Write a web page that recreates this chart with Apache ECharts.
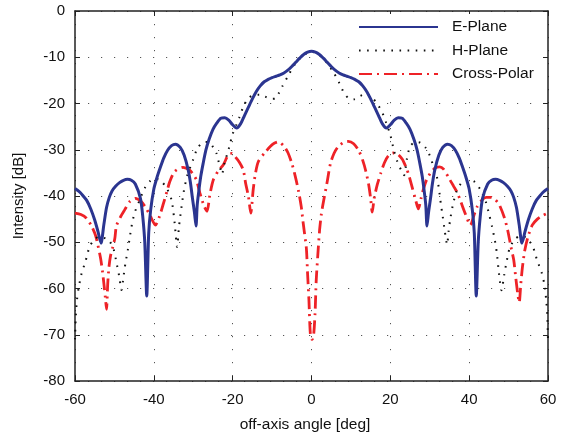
<!DOCTYPE html>
<html><head><meta charset="utf-8">
<script src="https://cdn.jsdelivr.net/npm/echarts@6/dist/echarts.min.js"></script>
<style>html,body{margin:0;padding:0;background:#fff}#c{width:565px;height:441px}</style>
</head><body><div id="c"></div>
<script>
// ---- data ----
const xTicks = [-60, -40, -20, 0, 20, 40, 60];
const yTicks = [-80, -70, -60, -50, -40, -30, -20, -10, 0];
const seriesNames = ['E-Plane', 'H-Plane', 'Cross-Polar'];

const eAngle = [-60,-59,-58.2,-57,-56,-55,-54.2,-53.4,-52.7,-52,-51.3,-50.6,-49.7,-48.7,-47.7,-46.7,-45.7,-44.7,-43.4,-42.8,-42.3,-41.8,-41.3,-40.8,-40,-39.2,-38.3,-37.5,-36.5,-35.5,-34.5,-33.3,-32.3,-31.3,-30.7,-30.2,-29.7,-29.3,-29,-28.6,-28.1,-27.5,-26.8,-26,-25,-24,-23,-22,-21,-20,-19,-18,-17,-16,-15,-14,-13,-12,-11,-10,-9,-8,-7,-6,-5,-4,-3,-2,-1,
  0,1,2,3,4,5,6,7,8,9,10,11,12,13,14,15,16,17,18,19,20,21,22,23,24,25,26,26.8,27.5,28.1,28.6,29,29.3,29.7,30.2,30.7,31.3,32.3,33.3,34.5,35.5,36.5,37.5,38.3,39.2,40,40.8,41.3,41.8,42.3,42.8,43.4,44.7,45.7,46.7,47.7,48.7,49.7,50.6,51.3,52,52.7,53.4,54.2,55,56,57,58.2,59,60];
const eDb = [-38.4,-39.0,-39.7,-41.0,-42.8,-45.2,-47.6,-50.2,-46.3,-42.5,-40.3,-38.9,-37.9,-37.1,-36.6,-36.4,-36.6,-37.4,-40.5,-44.5,-50.0,-61.6,-48.0,-43.0,-38.5,-36.0,-33.7,-31.8,-30.1,-29.1,-28.8,-29.5,-31.2,-34.3,-37.2,-40.5,-43.5,-46.5,-42.0,-39.0,-35.8,-33.0,-30.1,-27.8,-25.6,-24.2,-23.2,-23.1,-23.6,-24.6,-25.3,-24.4,-22.6,-20.8,-19.0,-17.4,-16.2,-15.3,-14.8,-14.4,-14.1,-13.8,-13.4,-12.8,-12.0,-11.1,-10.2,-9.4,-8.9,
  -8.7,-8.9,-9.4,-10.2,-11.1,-12.0,-12.8,-13.4,-13.8,-14.1,-14.4,-14.8,-15.3,-16.2,-17.4,-19.0,-20.8,-22.6,-24.4,-25.3,-24.6,-23.6,-23.1,-23.2,-24.2,-25.6,-27.8,-30.1,-33.0,-35.8,-39.0,-42.0,-46.5,-43.5,-40.5,-37.2,-34.3,-31.2,-29.5,-28.8,-29.1,-30.1,-31.8,-33.7,-36.0,-38.5,-43.0,-48.0,-61.6,-50.0,-44.5,-40.5,-37.4,-36.6,-36.4,-36.6,-37.1,-37.9,-38.9,-40.3,-42.5,-46.3,-50.2,-47.6,-45.2,-42.8,-41.0,-39.7,-39.0,-38.4];

const hAngle = [-60,-59.8,-59.5,-59.1,-58.4,-57.3,-56.3,-55,-53.8,-52.2,-51.2,-50.2,-49.5,-48.8,-48.2,-47.7,-47.2,-46.6,-45.7,-44.9,-43.6,-42.3,-41,-40,-38.5,-36.8,-35.5,-34.7,-34.1,-33.6,-33,-32.4,-31.5,-30,-28.9,-27.5,-26.2,-24.9,-24.1,-23.3,-22.7,-22.1,-21,-20,-19,-18.3,-17.2,-16,-14.7,-13.2,-11.8,-10.3,-9.1,-8.2,-7.4,-5.8,-4.1,-2,
  0,2,4,5.6,6.9,8.3,9.5,10.8,12.3,13.9,15.5,17,17.9,19,20,20.9,21.8,22.8,23.5,24.2,25,26.4,27.7,29,29.8,30.9,31.9,32.4,32.8,33.3,33.8,34.4,34.8,35.2,35.8,36.8,38.2,40,41.5,42.9,44.2,45.1,45.8,46.5,47,47.6,48.2,48.9,49.5,50.2,51.5,53.2,54.8,56.3,57.2,58.4,59.1,59.5,59.8,60];
const hDb = [-71,-66,-62.5,-60,-57,-54,-51,-49.3,-48.8,-49.2,-49.8,-51.5,-54.3,-57.3,-60.3,-57.5,-54.5,-51.7,-46.8,-43.7,-40.9,-38.3,-36.8,-36.3,-36.5,-38.2,-40.9,-46.0,-51.0,-46.5,-42.5,-39.0,-35.5,-32.1,-29.6,-28.4,-28.3,-29.5,-30.8,-33.5,-35.3,-33.0,-29.8,-26.6,-24.5,-23.0,-20.5,-18.8,-18.2,-18.1,-18.5,-19.0,-18.9,-17.6,-16.3,-13.8,-11.4,-9.5,
  -8.8,-9.5,-11.3,-13.3,-15.3,-17.8,-18.9,-19.1,-18.4,-17.9,-18.8,-20.5,-21.8,-24.3,-26.8,-30.1,-32.6,-34.5,-35.5,-32.0,-29.3,-28.3,-28.5,-29.6,-30.8,-33.5,-36.2,-38.9,-41.6,-44.5,-47.5,-50.5,-47.5,-45.0,-42.2,-39.0,-37.0,-36.4,-37.0,-38.7,-41.2,-44.1,-46.6,-49.5,-52.2,-57.0,-60.4,-57.0,-54.2,-51.5,-49.4,-48.6,-49.2,-51.3,-53.8,-56.6,-59.2,-62.1,-65.5,-71];

const cAngle = [-60,-58.5,-57.1,-55.8,-54.8,-54.2,-53.5,-53,-52.6,-52.3,-52,-51.7,-51.4,-51,-50.4,-49.9,-49.5,-48.5,-47.4,-46.1,-44.7,-43.2,-42,-41,-39.6,-38.6,-37.7,-36.6,-36,-34.7,-32.6,-30.9,-29.9,-29.2,-28.3,-27.2,-26.5,-25.8,-24.9,-23.6,-22.4,-21.1,-20.2,-19.4,-18.3,-17.3,-16.7,-16,-15.4,-14.8,-14.3,-13.5,-11.8,-9.8,-8.4,-7,-6,-5,-4.1,-3.3,-2.6,-2.2,-1.8,-1.3,-1,-0.65,-0.3,
  0.1,0.5,0.9,1.2,1.6,2.05,2.5,3.1,3.9,4.8,5.7,6.7,8,9.3,10.7,12,13,13.8,14.5,15,15.4,15.9,16.7,17.6,18.5,19.5,20.7,21.8,23,24,24.7,25.6,26.4,27.1,27.8,28.4,29.2,30.2,31.3,32.5,33.5,34.9,36,37,37.9,39.1,40.3,41.2,42.1,43.2,44.3,45.5,46.6,47.6,48.9,49.8,50.6,51.3,51.8,52.3,52.7,53.1,53.5,54.1,54.9,56,57.3,58.5,60];
const cDb = [-43.7,-44.0,-44.8,-46.5,-48.5,-50.6,-53.5,-56.5,-59.5,-62.0,-64.5,-59.0,-55.5,-53.0,-51.0,-49.2,-46.5,-44.6,-43.0,-41.2,-40.5,-41.2,-42.6,-44.1,-46.3,-44.5,-42.0,-38.8,-37.0,-34.7,-33.8,-34.4,-35.5,-36.5,-39.4,-42.3,-43.3,-39.8,-36.5,-34.5,-33.3,-31.1,-30.8,-31.5,-32.7,-34.4,-37.3,-40.1,-43.7,-38.7,-35.5,-32.6,-30.6,-28.8,-28.3,-29.2,-30.6,-32.9,-35.8,-38.9,-42.3,-45.2,-47.9,-51.3,-56.7,-62.5,-69.7,
  -71.0,-70.4,-65.4,-58.2,-52.8,-47.4,-43.9,-40.9,-37.3,-33.0,-30.8,-29.4,-28.5,-28.2,-28.7,-30.2,-32.3,-34.7,-37.5,-40.5,-43.5,-40.5,-37.5,-35.0,-32.8,-31.3,-30.7,-30.9,-32.0,-33.8,-35.5,-38.3,-40.8,-42.8,-40.5,-38.5,-36.5,-35.0,-34.0,-33.7,-34.2,-36.2,-37.8,-39.3,-41.3,-44.0,-46.3,-44.2,-42.2,-40.9,-40.3,-40.3,-40.8,-41.8,-44.6,-47.5,-51.0,-53.8,-57.5,-61.0,-63.0,-59.0,-55.5,-51.8,-48.9,-46.3,-45.0,-44.3,-43.7];

const pairs = (xs, ys) => xs.map((x, i) => [x, ys[i]]);
const FONT = "'Liberation Sans', Arial, Helvetica, sans-serif";
const gridDots = { show: true, lineStyle: { color: '#555', width: 1, type: [1.2, 11.8] } };
const frame = { show: true, onZero: false, lineStyle: { color: '#222', width: 1.5 } };

const chart = echarts.init(document.getElementById('c'), null, { renderer: 'canvas' });
chart.setOption({
  animation: false,
  backgroundColor: '#fff',
  grid: { left: 75, right: 17, top: 11, bottom: 60, containLabel: false },
  legend: {
    data: seriesNames, orient: 'vertical', left: 350, top: 14,
    itemWidth: 79, itemHeight: 14, itemGap: 7.5,
    backgroundColor: '#fff', padding: [5, 4, 6, 8],
    itemStyle: { opacity: 0 },
    textStyle: { fontSize: 15.5, fontFamily: FONT, color: '#111', padding: [0, 0, 0, 9] }
  },
  xAxis: [{
    type: 'value', min: xTicks[0], max: xTicks[xTicks.length - 1], interval: 20,
    name: 'off-axis angle [deg]', nameLocation: 'middle', nameGap: 36,
    nameTextStyle: { fontSize: 15.5, fontFamily: FONT, color: '#111', padding: [0, 13, 0, 0] },
    axisLine: frame, axisTick: { show: true, inside: true, length: 5, lineStyle: { color: '#222' } },
    axisLabel: { fontSize: 15, fontFamily: FONT, color: '#111', margin: 11 },
    splitLine: gridDots
  }, {
    type: 'value', position: 'top', min: xTicks[0], max: xTicks[xTicks.length - 1], interval: 20,
    axisLine: frame, axisTick: { show: true, inside: true, length: 5, lineStyle: { color: '#222' } },
    axisLabel: { show: false }, splitLine: { show: false }
  }],
  yAxis: [{
    type: 'value', min: yTicks[0], max: yTicks[yTicks.length - 1], interval: 10,
    name: 'Intensity [dB]', nameLocation: 'middle', nameGap: 49,
    nameTextStyle: { fontSize: 15, fontFamily: FONT, color: '#111' },
    axisLine: frame, axisTick: { show: true, inside: true, length: 5, lineStyle: { color: '#222' } },
    axisLabel: { fontSize: 15, fontFamily: FONT, color: '#111', margin: 10 },
    splitLine: gridDots
  }, {
    type: 'value', position: 'right', min: yTicks[0], max: yTicks[yTicks.length - 1], interval: 10,
    axisLine: frame, axisTick: { show: true, inside: true, length: 5, lineStyle: { color: '#222' } },
    axisLabel: { show: false }, splitLine: { show: false }
  }],
  series: [
    { name: seriesNames[2], type: 'line', data: pairs(cAngle, cDb), showSymbol: false, symbol: 'none', smooth: 0.25, z: 3,
      lineStyle: { color: '#ee2227', width: 2.8, type: [13, 5, 2, 5], cap: 'butt' }, itemStyle: { color: '#ee2227' } },
    { name: seriesNames[1], type: 'line', data: pairs(hAngle, hDb), showSymbol: false, symbol: 'none', smooth: 0.25, z: 4,
      lineStyle: { color: '#111', width: 2, type: [1.6, 6.5], cap: 'butt' }, itemStyle: { color: '#111' } },
    { name: seriesNames[0], type: 'line', data: pairs(eAngle, eDb), showSymbol: false, symbol: 'none', smooth: 0.25, z: 5,
      lineStyle: { color: '#2b3590', width: 3 }, itemStyle: { color: '#2b3590' } }
  ]
});
</script></body></html>
